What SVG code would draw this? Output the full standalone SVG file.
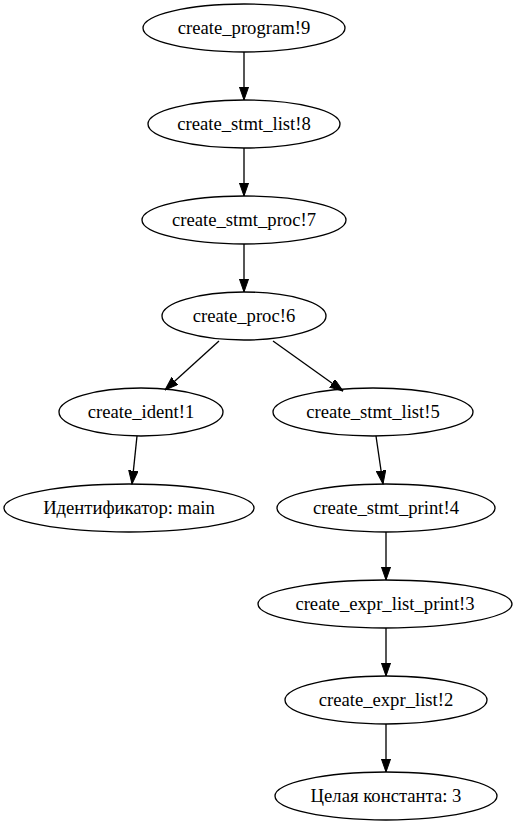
<svg xmlns="http://www.w3.org/2000/svg" width="520" height="827" viewBox="0 0 520 827">
<style>
.n ellipse{fill:none;stroke:#000;stroke-width:1.33}
.n text{font-family:'Liberation Serif','Times New Roman',serif;font-size:18.67px;text-anchor:middle;fill:#000}
#edges line{stroke:#000;stroke-width:1.33;marker-end:url(#ah)}
</style>
<defs>
<marker id="ah" markerUnits="userSpaceOnUse" markerWidth="14" markerHeight="10" refX="13.3" refY="4.67" orient="auto" viewBox="0 0 14 10">
<path d="M0,0 L13.3,4.67 L0,9.33 z" fill="#000" stroke="#000" stroke-width="1"/>
</marker>
</defs>
<rect width="520" height="827" fill="#fff"/>
<g id="edges">
<line x1="244" y1="52" x2="244" y2="100"/>
<line x1="244" y1="148" x2="244" y2="196"/>
<line x1="244" y1="244" x2="244" y2="292"/>
<line x1="219" y1="341" x2="165" y2="390"/>
<line x1="273" y1="341" x2="343" y2="391"/>
<line x1="137" y1="436" x2="132" y2="484"/>
<line x1="376" y1="436" x2="383" y2="484"/>
<line x1="386" y1="532" x2="386" y2="580"/>
<line x1="386" y1="628" x2="386" y2="676"/>
<line x1="386" y1="724" x2="386" y2="772"/>
</g>
<g id="n9" class="n"><ellipse cx="244" cy="28" rx="101" ry="24"/><text x="244" y="34">create_program!9</text></g>
<g id="n8" class="n"><ellipse cx="244" cy="124" rx="96" ry="24"/><text x="244" y="130">create_stmt_list!8</text></g>
<g id="n7" class="n"><ellipse cx="244" cy="220" rx="102" ry="24"/><text x="244" y="226">create_stmt_proc!7</text></g>
<g id="n6" class="n"><ellipse cx="244" cy="316" rx="82" ry="24"/><text x="244" y="322">create_proc!6</text></g>
<g id="n1" class="n"><ellipse cx="141" cy="412" rx="82" ry="24"/><text x="141" y="418">create_ident!1</text></g>
<g id="n5" class="n"><ellipse cx="373" cy="412" rx="100" ry="24"/><text x="373" y="418">create_stmt_list!5</text></g>
<g id="n0" class="n"><ellipse cx="129" cy="508" rx="125" ry="24"/><text x="129" y="514">Идентификатор: main</text></g>
<g id="n4" class="n"><ellipse cx="386" cy="508" rx="109" ry="24"/><text x="386" y="514">create_stmt_print!4</text></g>
<g id="n3" class="n"><ellipse cx="385" cy="604" rx="127" ry="24"/><text x="385" y="610">create_expr_list_print!3</text></g>
<g id="n2" class="n"><ellipse cx="386" cy="700" rx="101" ry="24"/><text x="386" y="706">create_expr_list!2</text></g>
<g id="nc" class="n"><ellipse cx="386" cy="796" rx="111" ry="24"/><text x="386" y="802">Целая константа: 3</text></g>
</svg>
